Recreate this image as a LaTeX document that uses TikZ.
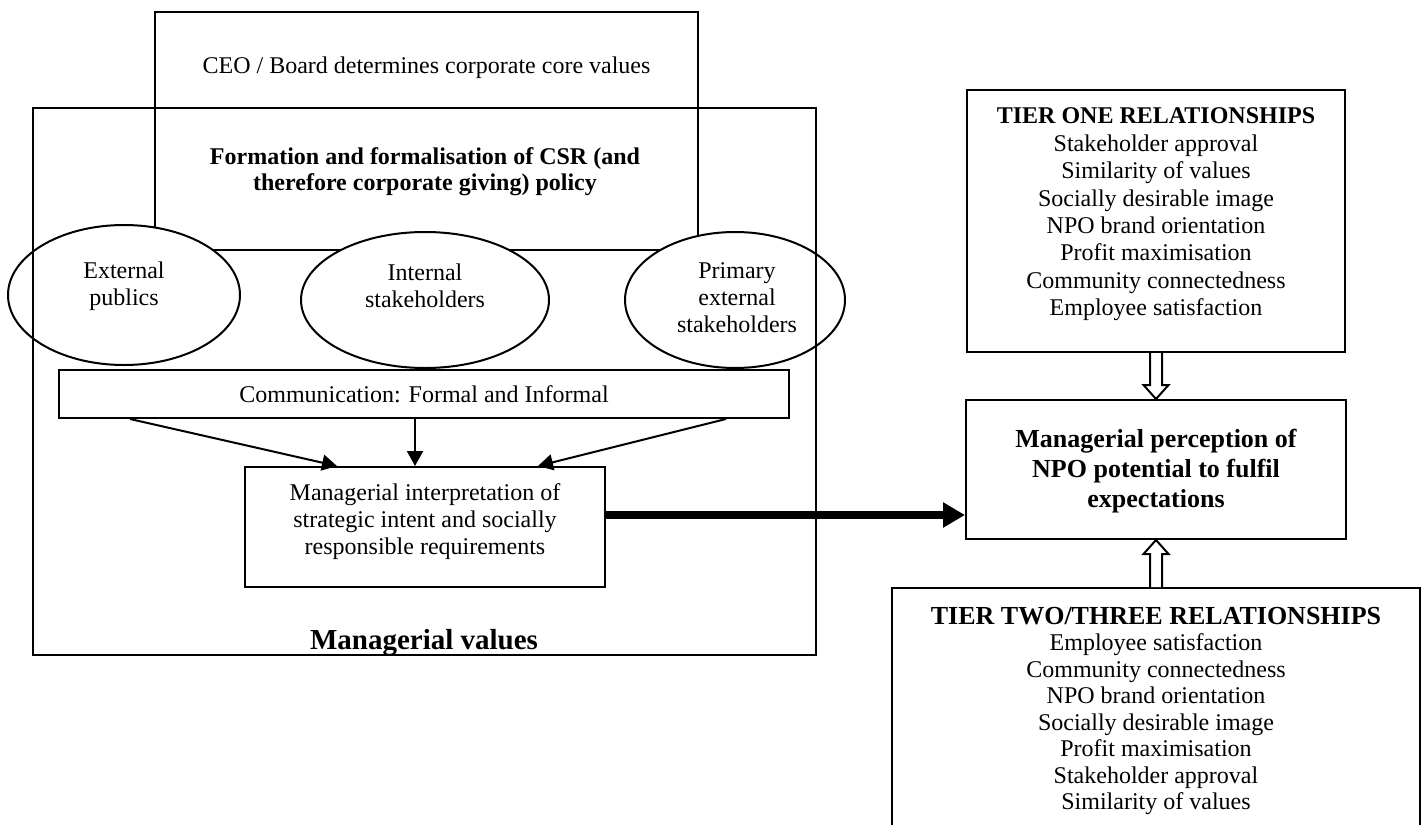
\documentclass[tikz,border=0pt]{standalone}
\usepackage{fontspec}
\setmainfont{Liberation Serif}
\usetikzlibrary{arrows.meta,shapes.geometric,calc}
\begin{document}
\begin{tikzpicture}[x=0.5pt,y=-0.5pt,line width=1pt,
  frame/.style={draw,rectangle,inner sep=0pt},
  oval/.style={draw,ellipse,fill=white,inner sep=0pt},
  body/.style={font=\fontsize{12}{13.5}\selectfont,align=center,inner sep=0pt},
  boldtxt/.style={font=\bfseries\fontsize{12}{13}\selectfont,align=center,inner sep=0pt},
  thinarrow/.style={-{Triangle[length=7.5pt,width=8pt]}},
  bigarrow/.style={line width=4pt,-{Triangle[length=11pt,width=12pt]}},
  hollow/.style={draw,fill=white,line width=1pt,line join=miter}]
\useasboundingbox (0,0) rectangle (1422,824);

% left part
\node[frame,minimum width=271.5pt,minimum height=119pt] (ceo) at (426.5,131) {};
\node[body] (ceotxt) at (426.5,68) {CEO / Board determines corporate core values};
\node[boldtxt] (form) at (425,172) {Formation and formalisation of CSR (and\\therefore corporate giving) policy};

\node[oval,minimum width=116pt,minimum height=70pt] (ext) at (124,295) {};
\node[oval,minimum width=124pt,minimum height=68pt] (int) at (425,300) {};
\node[oval,minimum width=110pt,minimum height=68pt] (pri) at (735,300) {};
\node[body] (exttxt) at (124,286) {External\\publics};
\node[body] (inttxt) at (425,286) {Internal\\stakeholders};
\node[body] (pritxt) at (737,298) {Primary\\external\\stakeholders};

\node[frame,minimum width=391.5pt,minimum height=273.5pt] (outer) at (424.5,381.5) {};

\node[frame,fill=white,minimum width=365pt,minimum height=24pt,font=\fontsize{12}{13.5}\selectfont] (comm) at (424,394) {Communication: Formal and Informal};

\node[frame,minimum width=180pt,minimum height=60pt] (interp) at (425,527) {};
\node[body] (interptxt) at (425,522) {Managerial interpretation of\\strategic intent and socially\\responsible requirements};

\node[boldtxt,font=\bfseries\fontsize{14.5}{16}\selectfont] (mv) at (424,643) {Managerial values};

\draw[thinarrow] ($(comm.south west)+(72,0)$) -- ($(interp.north west)+(93,0)$);
\draw[thinarrow] ($(comm.south)+(-9,0)$) -- ($(interp.north)+(-10,0)$);
\draw[thinarrow] ($(comm.south east)+(-64,0)$) -- ($(interp.north west)+(294,0)$);

% right part
\node[frame,minimum width=189pt,minimum height=131pt] (t1) at (1156,221) {};
\node[body,anchor=north,font=\fontsize{12}{13.7}\selectfont] (t1txt) at (1156,107) {\textbf{TIER ONE RELATIONSHIPS}\\Stakeholder approval\\Similarity of values\\Socially desirable image\\NPO brand orientation\\Profit maximisation\\Community connectedness\\Employee satisfaction};

\node[frame,minimum width=190pt,minimum height=69.5pt] (mid) at (1156,469.5) {};
\node[boldtxt,font=\bfseries\fontsize{13}{15}\selectfont] (midtxt) at (1156,471) {Managerial perception of\\NPO potential to fulfil\\expectations};

\node[frame,minimum width=264pt,minimum height=126pt] (t2) at (1156,714) {};
\node[body,anchor=north,font=\fontsize{12}{13.25}\selectfont] (t2txt) at (1156,606) {{\bfseries\fontsize{13}{14}\selectfont TIER TWO/THREE RELATIONSHIPS}\\Employee satisfaction\\Community connectedness\\NPO brand orientation\\Socially desirable image\\Profit maximisation\\Stakeholder approval\\Similarity of values};

\draw[bigarrow] ($(interp.east)+(0,-12)$) -- ($(mid.west)+(0,45.5)$);

\draw[hollow] ($(t1.south)+(-6,0)$) -- ($(mid.north)+(-6,-14)$) -- ($(mid.north)+(-12.5,-14)$) -- (mid.north) -- ($(mid.north)+(12.5,-14)$) -- ($(mid.north)+(6,-14)$) -- ($(t1.south)+(6,0)$);
\draw[hollow] ($(t2.north)+(-6,0)$) -- ($(mid.south)+(-6,14)$) -- ($(mid.south)+(-12.5,14)$) -- (mid.south) -- ($(mid.south)+(12.5,14)$) -- ($(mid.south)+(6,14)$) -- ($(t2.north)+(6,0)$);
\end{tikzpicture}
\end{document}
